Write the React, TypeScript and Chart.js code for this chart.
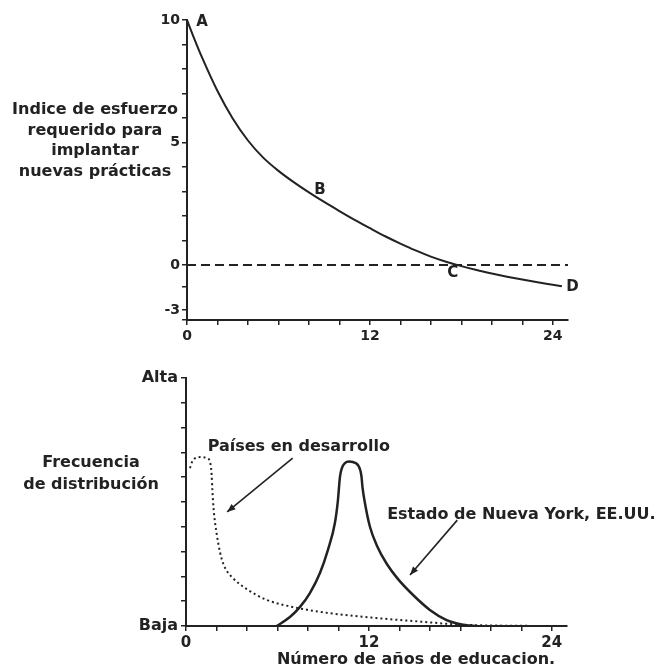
import React, { useEffect, useRef } from "react";
import { Chart, registerables } from "chart.js";

Chart.register(...registerables);

// ---------- Top chart data: effort index vs years of education ----------
const effortYears = [0, 0.5, 1, 2, 3, 4, 5, 6, 7, 8, 9, 10, 11, 12, 13, 14, 15, 16, 17, 18, 19, 20, 21, 22, 23, 24, 24.6];
const effortIndex = [10, 9.2, 8.45, 7.1, 5.98, 5.08, 4.38, 3.84, 3.38, 2.96, 2.57, 2.2, 1.84, 1.5, 1.17, 0.87, 0.59, 0.34, 0.13, -0.05, -0.21, -0.35, -0.48, -0.6, -0.71, -0.81, -0.87];
const zeroLineYears = [0, 25];
const zeroLineValues = [0, 0];
const effortTickValues = [-2.25, -1.85, -0.9, 0, 1, 2, 3, 4, 5, 6, 7, 8, 9, 10];
const effortTickLabels = ["", "-3", "", "0", "", "", "", "", "5", "", "", "", "", "10"];
const yearTickValues = [0, 2, 4, 6, 8, 10, 12, 14, 16, 18, 20, 22, 24];
const yearTickLabels = ["0", "", "", "", "", "", "12", "", "", "", "", "", "24"];
const effortTitle = ["Indice de esfuerzo", "requerido para", "implantar", "nuevas prácticas"];
const pointLetters = ["A", "B", "C", "D"];
const pointLetterYears = [0.98, 8.72, 17.44, 25.3];
const pointLetterValues = [9.92, 3.06, -0.33, -0.9];

// ---------- Bottom chart data: frequency distribution ----------
const devYears = [0.26, 0.46, 0.92, 1.38, 1.62, 1.68, 1.73, 1.8, 1.9, 2.03, 2.23, 2.45, 2.7, 3.0, 3.5, 4.0, 5.3, 7.3, 9.4, 12.5, 14.9, 18.2, 21.5, 24.9];
const devFreq = [6.37, 6.69, 6.81, 6.77, 6.5, 6.1, 5.5, 4.8, 4.2, 3.65, 2.98, 2.5, 2.2, 1.98, 1.7, 1.48, 1.05, 0.73, 0.52, 0.32, 0.2, 0.05, 0.01, 0];
const nyYears = [5.95, 6.82, 7.48, 8.13, 8.79, 9.31, 9.77, 9.97, 10.1, 10.23, 10.43, 10.7, 10.95, 11.2, 11.35, 11.45, 11.52, 11.58, 11.74, 12.07, 12.52, 13.18, 13.9, 14.9, 16.0, 17.1, 17.8, 18.4, 19.0];
const nyFreq = [0, 0.36, 0.77, 1.33, 2.14, 3.06, 4.15, 5.08, 6.0, 6.37, 6.57, 6.63, 6.61, 6.54, 6.42, 6.25, 6.0, 5.6, 4.96, 4.0, 3.25, 2.5, 1.9, 1.25, 0.65, 0.24, 0.1, 0.03, 0];
const freqTickValues = [0, 1, 2, 3, 4, 5, 6, 7, 8, 9, 10];
const freqTickLabels = ["Baja", "", "", "", "", "", "", "", "", "", "Alta"];
const freqTitle = ["Frecuencia", "de distribución"];
const xTitle = "Número de años de educacion.";
const devLabel = "Países en desarrollo";
const nyLabel = "Estado de Nueva York, EE.UU.";

const INK = "#222";
const FONT_FAMILY = "'DejaVu Sans', sans-serif";
const font = (size: number) => ({ family: "DejaVu Sans", size, weight: "bold" as const });

const toXY = (xs: number[], ys: number[]) => xs.map((x, i) => ({ x, y: ys[i] }));

function axisCommon() {
  return {
    grid: { display: true, drawOnChartArea: false, drawTicks: true, tickLength: 5, color: INK, lineWidth: 1.5 },
    border: { display: true, color: INK, width: 2 },
  };
}

function drawArrow(ctx: CanvasRenderingContext2D, x1: number, y1: number, x2: number, y2: number) {
  ctx.save();
  ctx.strokeStyle = INK;
  ctx.fillStyle = INK;
  ctx.lineWidth = 1.6;
  ctx.beginPath();
  ctx.moveTo(x1, y1);
  ctx.lineTo(x2, y2);
  ctx.stroke();
  const a = Math.atan2(y2 - y1, x2 - x1);
  const len = 9;
  const w = 0.38;
  ctx.beginPath();
  ctx.moveTo(x2, y2);
  ctx.lineTo(x2 - len * Math.cos(a - w), y2 - len * Math.sin(a - w));
  ctx.lineTo(x2 - len * Math.cos(a + w), y2 - len * Math.sin(a + w));
  ctx.closePath();
  ctx.fill();
  ctx.restore();
}

export default function App() {
  const topRef = useRef<HTMLCanvasElement | null>(null);
  const botRef = useRef<HTMLCanvasElement | null>(null);

  useEffect(() => {
    const topPlugin = {
      id: "topAnnotations",
      afterDraw(chart: any) {
        const { ctx, chartArea, scales } = chart;
        ctx.save();
        ctx.fillStyle = INK;
        ctx.font = `bold 16px ${FONT_FAMILY}`;
        ctx.textBaseline = "middle";
        ctx.textAlign = "center";
        effortTitle.forEach((line, i) => {
          ctx.fillText(line, chartArea.left - 92, 110 + i * 20.5);
        });
        ctx.font = `bold 15px ${FONT_FAMILY}`;
        pointLetters.forEach((l, i) => {
          ctx.fillText(l, scales.x.getPixelForValue(pointLetterYears[i]), scales.y.getPixelForValue(pointLetterValues[i]));
        });
        ctx.restore();
      },
    };

    const botPlugin = {
      id: "bottomAnnotations",
      afterDraw(chart: any) {
        const { ctx, chartArea, scales } = chart;
        const X = (v: number) => scales.x.getPixelForValue(v);
        const Y = (v: number) => scales.y.getPixelForValue(v);
        ctx.save();
        ctx.fillStyle = INK;
        ctx.font = `bold 16px ${FONT_FAMILY}`;
        ctx.textBaseline = "middle";
        ctx.textAlign = "center";
        freqTitle.forEach((line, i) => {
          ctx.fillText(line, chartArea.left - 95, 113 + i * 22);
        });
        ctx.fillText(xTitle, chartArea.left + 230, chartArea.bottom + 34);
        ctx.fillText(devLabel, X(7.4), Y(7.22));
        ctx.textAlign = "left";
        ctx.fillText(nyLabel, X(13.2), Y(4.48));
        ctx.restore();
        drawArrow(ctx, X(7.0), Y(6.77), X(2.7), Y(4.6));
        drawArrow(ctx, X(17.8), Y(4.27), X(14.7), Y(2.06));
      },
    };

    const top = new Chart(topRef.current as HTMLCanvasElement, {
      type: "line",
      data: {
        datasets: [
          {
            data: toXY(effortYears, effortIndex),
            borderColor: INK,
            borderWidth: 2,
            pointRadius: 0,
            cubicInterpolationMode: "monotone",
          },
          {
            data: toXY(zeroLineYears, zeroLineValues),
            borderColor: INK,
            borderWidth: 2,
            borderDash: [9, 5],
            pointRadius: 0,
          },
        ],
      },
      options: {
        animation: false,
        responsive: false,
        events: [],
        layout: { padding: { top: 20, right: 97, bottom: 0, left: 0 } },
        plugins: { legend: { display: false }, tooltip: { enabled: false } },
        scales: {
          x: {
            type: "linear",
            min: 0,
            max: 25,
            ...axisCommon(),
            afterBuildTicks: (s: any) => {
              s.ticks = yearTickValues.map((value) => ({ value }));
            },
            afterFit: (s: any) => {
              s.height = 30;
            },
            ticks: {
              autoSkip: false,
              maxRotation: 0,
              padding: 3,
              color: INK,
              font: font(14),
              callback: (v: any) => yearTickLabels[yearTickValues.indexOf(Number(v))] ?? "",
            },
          },
          y: {
            type: "linear",
            min: -2.25,
            max: 10,
            ...axisCommon(),
            afterBuildTicks: (s: any) => {
              s.ticks = effortTickValues.map((value) => ({ value }));
            },
            afterFit: (s: any) => {
              s.width = 187;
            },
            ticks: {
              autoSkip: false,
              padding: 2,
              color: INK,
              font: font(14),
              callback: (v: any) => effortTickLabels[effortTickValues.indexOf(Number(v))] ?? "",
            },
          },
        },
      } as any,
      plugins: [topPlugin],
    });

    const bottom = new Chart(botRef.current as HTMLCanvasElement, {
      type: "line",
      data: {
        datasets: [
          {
            data: toXY(devYears, devFreq),
            borderColor: INK,
            borderWidth: 2,
            borderDash: [2, 3],
            pointRadius: 0,
            cubicInterpolationMode: "monotone",
          },
          {
            data: toXY(nyYears, nyFreq),
            borderColor: INK,
            borderWidth: 2.5,
            pointRadius: 0,
            cubicInterpolationMode: "monotone",
          },
        ],
      },
      options: {
        animation: false,
        responsive: false,
        events: [],
        layout: { padding: { top: 28, right: 98, bottom: 0, left: 0 } },
        plugins: { legend: { display: false }, tooltip: { enabled: false } },
        scales: {
          x: {
            type: "linear",
            min: 0,
            max: 25,
            ...axisCommon(),
            afterBuildTicks: (s: any) => {
              s.ticks = yearTickValues.map((value) => ({ value }));
            },
            afterFit: (s: any) => {
              s.height = 43;
            },
            ticks: {
              autoSkip: false,
              maxRotation: 0,
              padding: 3,
              color: INK,
              font: font(15),
              callback: (v: any) => yearTickLabels[yearTickValues.indexOf(Number(v))] ?? "",
            },
          },
          y: {
            type: "linear",
            min: 0,
            max: 10,
            ...axisCommon(),
            afterBuildTicks: (s: any) => {
              s.ticks = freqTickValues.map((value) => ({ value }));
            },
            afterFit: (s: any) => {
              s.width = 186;
            },
            ticks: {
              autoSkip: false,
              padding: 3,
              color: INK,
              font: font(16),
              callback: (v: any) => freqTickLabels[freqTickValues.indexOf(Number(v))] ?? "",
            },
          },
        },
      } as any,
      plugins: [botPlugin],
    });

    return () => {
      top.destroy();
      bottom.destroy();
    };
  }, []);

  return (
    <div style={{ position: "fixed", left: 0, top: 0, width: 665, height: 669, background: "#fff" }}>
      <canvas ref={topRef} width={665} height={350} style={{ position: "absolute", left: 0, top: 0, width: 665, height: 350 }} />
      <canvas ref={botRef} width={665} height={319} style={{ position: "absolute", left: 0, top: 350, width: 665, height: 319 }} />
    </div>
  );
}
